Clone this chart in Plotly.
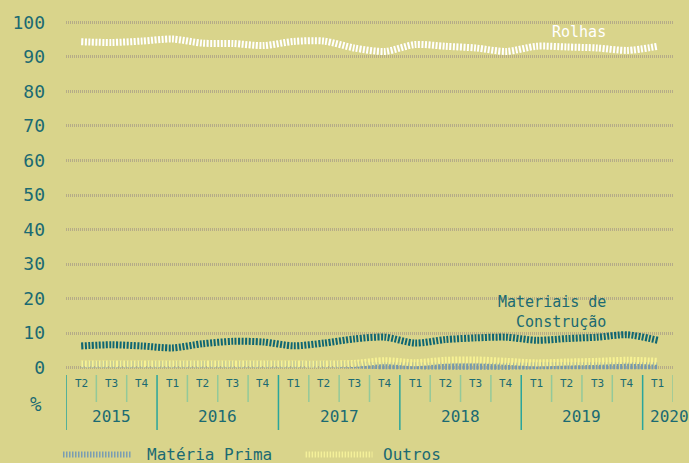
import plotly.graph_objects as go

# ---------------- data ----------------
years = ["2015"] * 3 + ["2016"] * 4 + ["2017"] * 4 + ["2018"] * 4 + ["2019"] * 4 + ["2020"]
quarters = ["T2", "T3", "T4",
            "T1", "T2", "T3", "T4",
            "T1", "T2", "T3", "T4",
            "T1", "T2", "T3", "T4",
            "T1", "T2", "T3", "T4",
            "T1"]

rolhas = [94.4, 94.2, 94.6, 95.2, 94.0, 93.9, 93.3, 94.5, 94.6, 92.6,
          91.6, 93.6, 93.1, 92.6, 91.6, 93.1, 92.9, 92.6, 91.9, 93.1]
materiais = [6.25, 6.6, 6.25, 5.7, 6.9, 7.6, 7.4, 6.3, 7.1, 8.3,
             8.8, 7.1, 8.1, 8.6, 8.8, 7.9, 8.4, 8.8, 9.5, 7.9]
outros = [1.0, 1.0, 1.0, 1.0, 1.0, 1.0, 1.0, 1.0, 1.0, 1.2,
          2.0, 1.4, 2.1, 2.2, 1.8, 1.35, 1.6, 1.8, 2.1, 1.8]
materia_prima = [0.9, 0.9, 0.9, 0.9, 0.9, 0.9, 0.9, 0.9, 0.9, 0.8,
                 0.5, 0.5, 0.4, 0.4, 0.4, 0.5, 0.5, 0.5, 0.5, 0.5]

y_ticks = list(range(0, 101, 10))

# ---------------- style ----------------
BG = "#d9d48b"
TEAL = "#1b6a72"
FONT = "DejaVu Sans Mono"
HATCH = "2px,1.5px"

W, H = 689, 463
ML, MR, MT = 65, 16, 17
Y_MIN, Y_MAX = -1, 101
PLOT_H = 354
MB = H - MT - PLOT_H
PLOT_W = W - ML - MR
BOTTOM = MT + PLOT_H

def px_x(p):
    return (p - ML) / PLOT_W

def px_y(p):
    return (BOTTOM - p) / PLOT_H

x = list(range(len(quarters)))

fig = go.Figure()

series = [
    ("Matéria Prima", materia_prima, "#7499ad"),
    ("Outros", outros, "#f7f294"),
    ("Materiais de Construção", materiais, "#0f6672"),
    ("Rolhas", rolhas, "#ffffff"),
]
for name, vals, col in series:
    fig.add_trace(go.Scatter(
        x=x, y=vals, mode="lines", name=name,
        line=dict(color=col, width=7, dash=HATCH, shape="spline", smoothing=0.8),
        showlegend=False, hoverinfo="x+y+name",
    ))

annotations = []
shapes = []

# quarter labels
for i, q in enumerate(quarters):
    annotations.append(dict(x=i, y=0, xref="x", yref="paper", text=q, showarrow=False,
                            yanchor="middle", yshift=-(383 - BOTTOM),
                            font=dict(family=FONT, size=11, color=TEAL)))

# year labels and dividers
groups = []
for i, yv in enumerate(years):
    if not groups or groups[-1][0] != yv:
        groups.append([yv, i, i])
    else:
        groups[-1][2] = i
for yv, a, b in groups:
    xs = 12 if a == b else 0
    annotations.append(dict(x=(a + b) / 2, y=0, xref="x", yref="paper", text=yv, showarrow=False,
                            yanchor="middle", yshift=-(416 - BOTTOM), xshift=xs,
                            font=dict(family=FONT, size=16, color=TEAL)))

n = len(quarters)
for k in range(n + 1):
    is_year = (k == 0) or (k < n and years[k] != years[k - 1])
    shapes.append(dict(type="line", xref="x", yref="paper", ysizemode="pixel", yanchor=0,
                       x0=k - 0.5, x1=k - 0.5,
                       y0=-(375 - BOTTOM), y1=-((430 if is_year else 402) - BOTTOM),
                       line=dict(color="#2aa59c" if is_year else "#93c99a", width=1.5)))

# % label
annotations.append(dict(x=0, y=0, xref="paper", yref="paper", text="%", showarrow=False,
                        xshift=35 - ML, yshift=-(404 - BOTTOM), xanchor="center", yanchor="middle",
                        font=dict(family=FONT, size=19, color=TEAL)))

# series labels (right aligned)
x_lab = (608 - ML) / (PLOT_W / n) - 0.5
annotations.append(dict(x=x_lab, y=(368 - 31) / 3.47, xref="x", yref="y", text="Rolhas",
                        showarrow=False, xanchor="right", align="right", yanchor="middle",
                        font=dict(family=FONT, size=15, color="#ffffff")))
annotations.append(dict(x=x_lab, y=(368 - 312.5) / 3.47, xref="x", yref="y",
                        text="Materiais de<br>Construção",
                        showarrow=False, xanchor="right", align="right", yanchor="middle",
                        font=dict(family=FONT, size=15, color=TEAL)))

# manual legend
legend_items = [("Matéria Prima", "#7a9db2", 62, 130, 144),
                ("Outros", "#f4f09a", 305, 372, 381)]
for name, col, s0, s1, tx in legend_items:
    shapes.append(dict(type="line", xref="paper", yref="paper",
                       x0=px_x(s0), x1=px_x(s1), y0=px_y(455), y1=px_y(455),
                       line=dict(color=col, width=6, dash="1.5px,1.5px")))
    annotations.append(dict(x=px_x(tx), y=px_y(455), xref="paper", yref="paper", text=name,
                            showarrow=False, xanchor="left", yanchor="middle",
                            font=dict(family=FONT, size=16, color=TEAL)))

fig.update_layout(
    width=W, height=H,
    margin=dict(l=ML, r=MR, t=MT, b=MB, pad=0),
    paper_bgcolor=BG, plot_bgcolor=BG,
    showlegend=False,
    annotations=annotations,
    shapes=shapes,
    xaxis=dict(range=[-0.5, n - 0.5], showgrid=False, zeroline=False, showticklabels=False,
               showline=False, fixedrange=True),
    yaxis=dict(range=[Y_MIN, Y_MAX], tickvals=y_ticks, showgrid=True, gridcolor="#b5ab88",
               gridwidth=3, griddash="1px,1px", zeroline=False, showline=False,
               ticklabelstandoff=20,
               tickfont=dict(family=FONT, size=18, color=TEAL), fixedrange=True),
)

fig.write_html("out.html", config={"displayModeBar": False},
               post_script="document.body.style.margin='0';document.body.style.overflow='hidden';")
